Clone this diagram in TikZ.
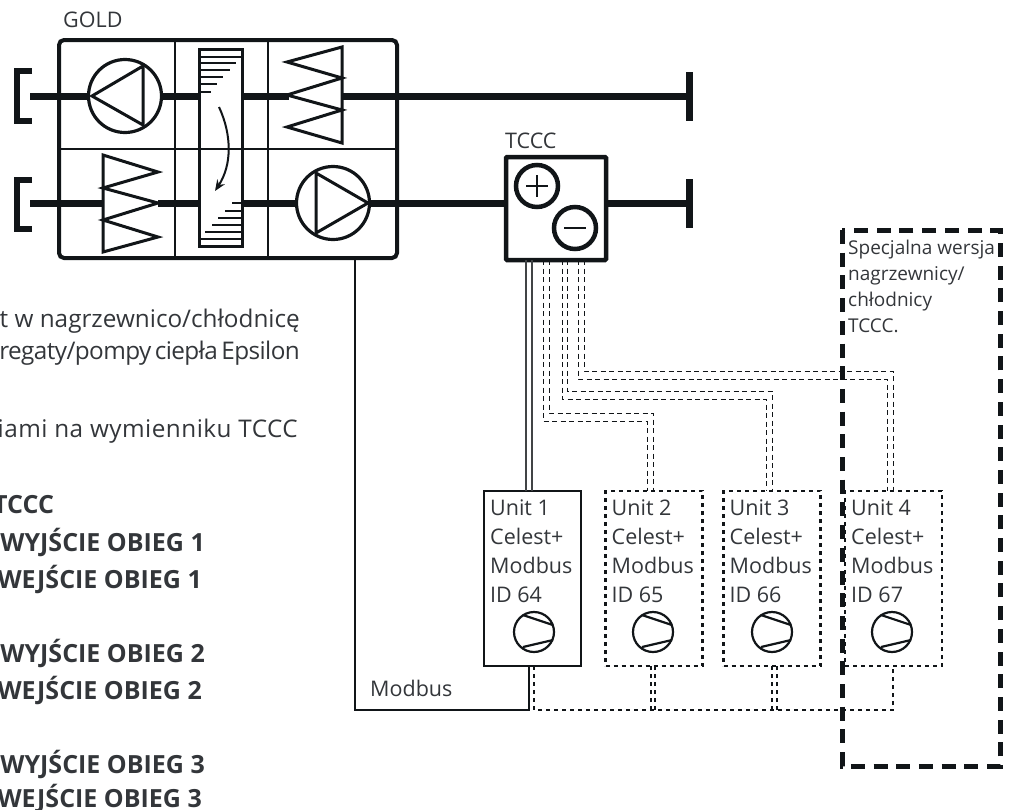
\documentclass[tikz,border=0pt]{standalone}
\usepackage{fontspec}
\setmainfont{Open Sans}
\newfontfamily\tightfont{Open Sans}[LetterSpace=-2.4,WordSpace=0.6]
\newfontfamily\widefont{Open Sans}[LetterSpace=2]
\usetikzlibrary{arrows.meta}

\definecolor{ink}{HTML}{111518}
\definecolor{txt}{HTML}{33363A}

\tikzstyle{gold} = [draw=ink, line width=4pt, rectangle, rounded corners=5pt,
  minimum width=338pt, minimum height=218pt, inner sep=0pt, outer sep=0pt]
\tikzstyle{tccc} = [draw=ink, line width=4.5pt, rectangle, rounded corners=1pt,
  minimum width=100pt, minimum height=103pt, inner sep=0pt, outer sep=0pt]
\tikzstyle{wall} = [draw=ink, line width=2.3pt]
\tikzstyle{duct} = [draw=ink, line width=7pt]
\tikzstyle{clamp} = [draw=ink, line width=5.8pt]
\tikzstyle{part} = [draw=ink, line width=3pt, line join=miter]
\tikzstyle{fan} = [draw=ink, line width=3.2pt, circle, minimum size=73pt,
  inner sep=0pt, outer sep=0pt]
\tikzstyle{sign} = [draw=ink, line width=4.5pt, circle, minimum size=42pt,
  inner sep=0pt, outer sep=0pt]
\tikzstyle{exch} = [draw=ink, line width=3pt, rectangle, minimum width=43pt,
  minimum height=197pt, inner sep=0pt, outer sep=0pt]
\tikzstyle{unitsolid} = [draw=ink, line width=2.5pt, rectangle, minimum width=97pt,
  minimum height=175pt, inner sep=0pt, outer sep=0pt]
\tikzstyle{unitdash} = [unitsolid, dash pattern=on 4pt off 4pt]
\tikzstyle{comp} = [draw=ink, line width=2.2pt, circle, minimum size=40pt,
  inner sep=0pt, outer sep=0pt]
\tikzstyle{pipe} = [draw=ink, line width=1pt, dash pattern=on 5pt off 3.5pt]
\tikzstyle{modbus} = [draw=ink, line width=2pt]
\tikzstyle{modbusdash} = [draw=ink, line width=2pt, dash pattern=on 4pt off 4pt]
\tikzstyle{special} = [draw=ink, line width=5pt, dash pattern=on 14pt off 8.7pt]
\tikzstyle{label} = [text=txt, inner sep=0pt, font=\fontsize{21.5}{29}\selectfont]
\tikzstyle{unitlabel} = [label, anchor=north west, align=left,
  inner xsep=6pt, inner ysep=9pt]
\tikzstyle{note} = [label, anchor=base east, font=\fontsize{24.3}{29}\selectfont]
\tikzstyle{notebold} = [label, anchor=base east, font=\fontsize{25}{29}\selectfont\bfseries]

\begin{document}
\begin{tikzpicture}[x=1pt,y=-1pt]
        \useasboundingbox (0,0) rectangle (1014,809);

        % air handling unit
        \node [gold] (gold) at (228,149) {};
        \node [label, anchor=base west] (goldlabel) at (63,27) {GOLD};
        \draw [wall] (175,40) -- (175,258);
        \draw [wall] (268,40) -- (268,258);
        \draw [wall] (59,149) -- (397,149);

        \node [exch] (exch) at (220.5,147.5) {};
        \node [fan] (fantop) at (125,96) {};
        \node [fan] (fanbot) at (333,203) {};
        \draw [part] (92,96) -- (143,66) -- (143,125) -- cycle;
        \draw [part] (368,203) -- (316,173) -- (316,233) -- cycle;

        % exchanger plates
        \foreach \y/\x in {57/242,63/236,70/230,77/223,84/217,92/211}
          \draw [wall] (199,\y) -- (\x,\y);
        \foreach \y/\x in {203/232,211/225,218/218,225/212,232/205,239/199}
          \draw [wall] (242,\y) -- (\x,\y);
        \draw [-{Stealth[length=11pt,width=9pt]},line width=2pt,color=ink]
          (219,107) .. controls (232,135) and (232,165) .. (215,191);

        % coils
        \draw [part] (342,47) -- (287,62) -- (342,78) -- (287,95) -- (342,110)
          -- (287,127) -- (342,143) -- cycle;
        \draw [part] (103,155) -- (158,172) -- (103,188) -- (158,203) -- (103,220)
          -- (158,237) -- (103,252) -- cycle;

        % ducts
        \coordinate (intop) at (30,96);
        \coordinate (inbot) at (30,203);
        \coordinate (endtop) at (689,96);
        \coordinate (endbot) at (689,203);
        \draw [duct] (intop) -- (fantop.west);
        \draw [duct] (fantop.east) -- (exch.west |- fantop);
        \draw [duct] (exch.east |- fantop) -- (289,96);
        \draw [duct] (342,96) -- (endtop);
        \draw [duct] (inbot) -- (103,203);
        \draw [duct] (158,203) -- (exch.west |- fanbot);
        \draw [duct] (exch.east |- fanbot) -- (fanbot.west);
        \draw [duct] (fanbot.east) -- (506,203);
        \draw [duct] (606,203) -- (endbot);
        \draw [clamp] (32,71) -- (17,71) -- (17,121) -- (32,121);
        \draw [clamp] (32,180) -- (17,180) -- (17,229) -- (32,229);
        \draw [duct] (endtop) ++(0,-24) -- ++(0,49);
        \draw [duct] (endbot) ++(0,-24) -- ++(0,49);

        % heater/cooler
        \node [tccc] (tccc) at (556,208.5) {};
        \node [label, anchor=base west] (tccclabel) at (505,148) {TCCC};
        \node [sign] (plus) at (537,186) {};
        \node [sign] (minus) at (575,228) {};
        \draw [wall] (plus.center) ++(-11,0) -- ++(22,0);
        \draw [wall] (plus.center) ++(0,-11) -- ++(0,22);
        \draw [wall] (minus.center) ++(-11,0) -- ++(22,0);

        % condensing units
        \foreach \n/\ux/\cx/\uid/\ubox in {1/532.5/534/64/unitsolid,2/654/653/65/unitdash,
            3/772/772/66/unitdash,4/893.5/892/67/unitdash} {
          \node [\ubox] (unit\n) at (\ux,578.5) {};
          \node [unitlabel] (unitlabel\n) at (unit\n.north west)
            {Unit \n\\Celest+\\Modbus\\ID \uid};
          \node [comp] (comp\n) at (\cx,632) {};
          \draw [comp] (comp\n.center) ++(-11,-17) -- ++(30,10);
          \draw [comp] (comp\n.center) ++(-11,15) -- ++(30,-7);
        }

        % refrigerant lines
        \draw [line width=1.3pt,color=ink!80] (526,260) -- (526,491);
        \draw [line width=1.3pt,color=ink!80] (532,260) -- (532,491);
        \foreach \n/\xa/\xb/\ya/\yb/\xc/\xd in {2/543/549/421/413/647/653,
            3/562/567/399/391/766/772,4/578/584/379/371/887/893} {
          \coordinate (outer\n) at (\xc,\ya);
          \coordinate (inner\n) at (\xd,\yb);
          \draw [pipe] (\xa,260) -- (\xa,\ya) -- (outer\n) -- (outer\n |- unit\n.north);
          \draw [pipe] (\xb,260) -- (\xb,\yb) -- (inner\n) -- (inner\n |- unit\n.north);
        }

        % bus
        \draw [modbus] (355,258) -- (355,710) -- (529,710) -- (529,666);
        \node [label, anchor=base west] (modbuslabel) at (370,696) {Modbus};
        \draw [modbusdash] (534,666) -- (534,710) -- (893,710) -- (893,666);
        \draw [modbusdash] (651,710) -- (651,666);
        \draw [modbusdash] (655,710) -- (655,666);
        \draw [modbusdash] (772,710) -- (772,666);
        \draw [modbusdash] (777,710) -- (777,666);

        % special version frame
        \coordinate (frameNW) at (842,230);
        \coordinate (frameSE) at (1000,766);
        \draw [special] (frameNW) rectangle (frameSE);
        \node [label, anchor=north west, align=left, font=\fontsize{19}{26}\selectfont]
          (speciallabel) at (848,240) {Specjalna wersja\\nagrzewnicy/\\chłodnicy\\TCCC.};

        % notes, cut off by the page edge
        \node [note] (note1) at (300,327) {t w nagrzewnico/chłodnicę};
        \node [note] (note2) at (300,359) {\tightfont gregaty/pompy ciepła Epsilon};
        \node [note] (note3) at (298,437) {\widefont iami na wymienniku TCCC};
        \node [notebold, anchor=base west] (note4) at (-7,513) {TCCC};
        \node [notebold] (note5) at (205,551) {WYJŚCIE OBIEG 1};
        \node [notebold] (note6) at (202,588) {WEJŚCIE OBIEG 1};
        \node [notebold] (note7) at (205,662) {WYJŚCIE OBIEG 2};
        \node [notebold] (note8) at (202,699) {WEJŚCIE OBIEG 2};
        \node [notebold] (note9) at (205,773) {WYJŚCIE OBIEG 3};
        \node [notebold] (note10) at (202,807) {WEJŚCIE OBIEG 3};
      \end{tikzpicture}
\end{document}
